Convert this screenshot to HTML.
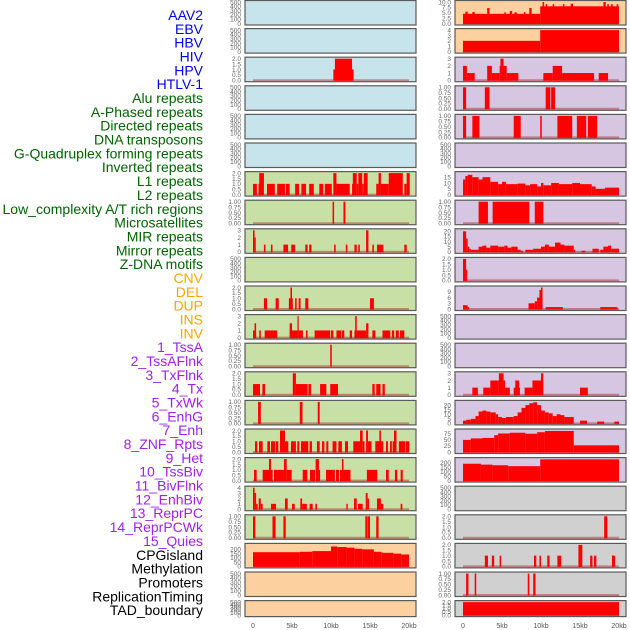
<!DOCTYPE html>
<html><head><meta charset="utf-8"><style>
html,body{margin:0;padding:0;background:#fff;width:630px;height:630px;overflow:hidden}
svg{display:block;font-family:"Liberation Sans",sans-serif}
</style></head><body>
<svg id="c" width="630" height="630"></svg>
<script>
const labelNames=["AAV2","EBV","HBV","HIV","HPV","HTLV-1","Alu repeats","A-Phased repeats","Directed repeats","DNA transposons","G-Quadruplex forming repeats","Inverted repeats","L1 repeats","L2 repeats","Low_complexity A/T rich regions","Microsatellites","MIR repeats","Mirror repeats","Z-DNA motifs","CNV","DEL","DUP","INS","INV","1_TssA","2_TssAFlnk","3_TxFlnk","4_Tx","5_TxWk","6_EnhG","7_Enh","8_ZNF_Rpts","9_Het","10_TssBiv","11_BivFlnk","12_EnhBiv","13_ReprPC","14_ReprPCWk","15_Quies","CPGisland","Methylation","Promoters","ReplicationTiming","TAD_boundary"];
const labelGroups=[6,13,5,15,5];
const groupColors=["#0000ee","#006400","#ffa500","#a020f0","#000000"];
const xTicks=[0,5,10,15,20];
const xTickLabels=["0","5kb","10kb","15kb","20kb"];
const leftBg=["b","b","b","b","b","b","g","g","g","g","g","g","g","g","g","g","g","g","g","p","p","p"];
const rightBg=["p","p","u","u","u","u","u","u","u","u","u","u","u","u","u","u","u","r","r","r","r","r"];
const T500=["0","100","200","300","400","500"],T500v=[0,100,200,300,400,500];
const T1=["0.00","0.25","0.50","0.75","1.00"],T1v=[0,.25,.5,.75,1];
const T2=["0.0","0.5","1.0","1.5","2.0"],T2v=[0,.5,1,1.5,2];
const T3=["0","1","2","3"],T3v=[0,1,2,3];
const T4=["0","1","2","3","4"],T4v=[0,1,2,3,4];
// series: [startKb,endKb,value]
const L2=[[10.3,12.9,1],[10.5,12.7,2]];
const L6=[[0,0.5,1],[0.7,0.8,1],[0.8,1.4,2],[1.8,2.8,1],[3.1,4.1,1],[4.2,4.7,1],[5.4,5.9,1],[6.2,6.8,1],[7.2,7.8,1],[8.5,9,1],[9.2,10.1,1],[10.3,10.7,2],[10.7,12.4,1],[12.7,12.8,1],[12.8,13.3,2],[13.3,13.5,1],[13.5,14,2],[14,14.2,1],[14.2,14.7,2],[15.8,16.1,1],[16.1,16.4,2],[16.4,17.4,1],[17.4,19.2,2],[19.4,19.7,1],[19.7,20.1,2]];
const L7=[[10.2,10.4,1],[11.6,11.85,1]];
const L8=[[0,0.2,3],[0.2,0.3,2],[1.4,1.6,1],[2.3,2.5,1],[3.9,4.5,1],[4.9,5.4,1],[6.7,7.0,1],[7.2,7.5,1],[10.4,10.6,1],[11.9,12.1,1],[13.0,13.3,1],[13.5,13.7,1],[14.5,14.8,3],[15.3,15.5,1],[15.9,16.7,1],[19.4,19.7,1]];
const L10=[[1.4,1.8,1],[2.9,3.3,1],[4.6,5.1,1],[4.8,5.0,2],[5.4,5.6,1],[5.85,6.1,1],[6.7,7.1,1],[15.0,15.5,1]];
const L11=[[0,0.4,1],[0.2,0.4,2],[0.8,1.0,1],[1.5,3.1,1],[4.7,5.7,1],[4.7,5.0,2],[5.7,5.85,3],[5.85,6.4,1],[6.8,7.0,1],[7.9,9.9,1],[10.0,10.3,1],[10.7,11.3,1],[11.4,11.7,1],[12.4,12.7,1],[13.0,14.5,1],[13.1,13.3,3],[14.5,14.8,2],[15.3,15.7,1],[16.6,17.6,1],[17.8,18.1,1],[18.3,18.7,1],[18.85,19.4,1]];
const L12=[[9.9,10.1,1]];
const L13=[[0,0.9,1],[1.2,1.55,1],[5.1,5.5,2],[5.5,7.0,1],[7.1,7.45,1],[8.6,9.4,1],[9.9,10.9,1],[15.3,15.6,1],[15.8,16.35,1],[16.6,16.9,1]];
const L14=[[0.65,1.0,1],[6.0,6.35,1],[8.3,8.55,1]];
const L15=[[0.26,0.55,1],[0.77,1.24,1],[1.84,2.18,1],[2.31,2.86,1],[2.95,3.25,1],[3.46,4.1,2],[4.1,4.53,1],[4.87,5.5,1],[5.68,5.94,1],[6.15,7.09,1],[7.26,7.56,1],[8.2,8.55,1],[8.85,9.15,1],[9.4,9.66,1],[10.2,10.7,1],[10.94,11.4,1],[11.8,12.18,1],[12.86,13.72,1],[13.72,14.06,2],[14.06,14.3,1],[14.5,14.74,2],[14.74,15.2,1],[15.68,16.7,1],[16.2,16.4,2],[17.05,17.3,1],[17.56,17.8,1],[17.9,18.4,1],[18.08,18.4,2],[18.7,19.5,1],[19.57,20.04,1]];
const L16=[[0.13,0.47,1],[1.24,2.05,1],[2.05,2.31,2],[2.31,2.52,1],[2.69,3.97,1],[3.97,4.32,2],[4.32,4.96,1],[6.37,6.97,1],[7.3,7.95,1],[8.03,8.45,2],[8.45,8.6,1],[9.36,10.5,1],[10.64,11.03,1],[11.15,11.4,1],[11.4,11.6,2],[11.6,12.5,1],[14.6,15.94,1],[17.05,17.4,1],[18.2,18.5,1],[18.93,19.2,1]];
const L17=[[0,0.2,4],[0.2,0.4,3],[0.4,0.6,1],[0.73,1.0,2],[1.0,1.24,1],[2.31,2.95,1],[4.1,4.45,2],[5.0,5.35,1],[6.07,6.3,2],[6.3,6.9,1],[7.26,7.65,1],[8.0,8.2,1],[11.97,12.15,1],[12.95,13.3,2],[13.45,14.06,1],[14.45,14.7,3],[14.7,14.87,2],[15.9,16.4,2],[16.4,16.7,1],[18.93,19.15,1]];
const L18=[[0,0.3,1],[2.5,2.9,1],[3.9,4.2,1],[14.4,14.7,1],[14.75,15.0,1],[15.8,16.1,1]];
const L19=[[0,6,165],[6,7.6,170],[7.6,10,178],[10,10.8,232],[10.8,12,225],[12,13,218],[13,14,205],[14,15.5,198],[15.5,16.5,170],[16.5,18,158],[18,19,148],[19,20,138]];
const R0=[[0,9.9,4.5],[0.3,0.6,5.5],[1.2,1.5,5.3],[3.1,3.4,7.2],[5.3,5.5,5.2],[6.0,6.3,5.8],[6.6,6.9,5.2],[7.8,8.0,5.3],[8.5,8.8,7.2],[9.9,20,8],[10.2,10.4,10],[10.6,10.8,9],[11.5,11.7,9],[12.8,13.0,9],[13.8,14.1,9.2],[18.0,18.3,10],[18.5,18.7,9],[19.0,19.2,9],[19.7,19.9,9]];
const R1=[[0,9.9,2],[9.9,20,4]];
const R2=[[0,0.5,2],[0.5,1.5,1],[3.1,3.7,2],[3.7,4.7,1],[4.7,5.6,2],[4.8,5.2,3],[5.6,7.1,1],[10.3,11.5,1],[11.5,12.7,2],[12.7,16.8,1],[17.4,18.6,1]];
const R3=[[0,0.4,1],[2.8,3.4,1],[10.6,11.2,1],[11.3,11.8,1]];
const R4=[[0,0.4,1],[1.2,2.1,1],[6.5,7.4,1],[9.9,10.1,1],[12.1,14.0,1],[14.6,15.8,1],[16.0,17.2,1]];
const R6=[[0,0.3,13],[0.3,0.6,16],[0.6,1.2,17],[1.2,2,15],[2,2.5,13],[2.5,3.5,15],[3.5,4.5,11],[4.5,5,9],[5,5.5,11],[5.5,7,9],[7,8,9.5],[8,8.6,8],[8.6,9.5,9],[9.5,10,7],[10,10.3,10],[10.3,11.3,8],[11.3,12.3,10],[12.3,14,9],[14,15,10],[15,16.5,9],[16.5,17,7],[17,18.2,5],[18.2,20,6]];
const R7=[[2.0,3.2,1],[3.8,8.5,1],[9.2,10.3,1]];
const R8=[[0,0.4,20],[0.4,0.6,13],[0.6,0.8,5],[0.8,1,3],[1,2,2],[2,2.5,5],[2.5,3,6],[3,3.5,4],[3.5,4.5,6],[4.5,5.3,5],[5.3,5.7,6],[5.7,6.2,4],[6.2,7,5],[7,7.4,2],[7.4,7.7,1],[8,9,2],[9,10,3],[10,10.5,5],[10.5,11,7],[11,11.8,5],[11.8,12.5,9],[12.5,13,7],[13,14.2,6],[14.2,14.4,2],[15.2,15.7,1],[16.6,17.4,3],[17.6,18,2],[18,18.6,5],[18.6,19,6],[19,20,3]];
const R9=[[0,0.4,2],[0.4,0.5,1]];
const R10=[[0,0.6,2],[0.6,0.8,1],[8.4,9.2,3],[9.2,9.5,4],[9.5,9.8,6],[9.8,10.0,10],[10.0,10.2,11.3],[10.6,12.8,1],[17.6,19.8,1]];
const R13=[[1.2,1.9,1],[2.6,3.5,1],[3.5,4.6,2],[4.6,5.2,3],[5.2,5.4,2],[5.4,6,1],[6.5,7.3,1],[6.7,7.2,2],[7.9,8.9,1],[8.9,10,2],[10,10.3,3],[15,16,1]];
const R14=[[0,0.4,3],[0.4,1,4],[1,1.6,5],[1.6,2,8],[2,2.5,13],[2.5,3,14],[3,3.5,13],[3.5,4.2,12],[4.2,4.5,10],[4.5,5,7],[5,5.5,6],[5.5,6.5,7],[6.5,7,8],[7,7.5,12],[7.5,8,17],[8,8.5,20],[8.5,9,22],[9,9.5,23],[9.5,10,20],[10,10.5,14],[10.5,11,12],[11,11.5,11],[11.5,12,8],[12,12.5,10],[12.5,13,9],[13,14.2,7],[15,15.9,3],[17.2,18.1,2],[19.4,20,2]];
const R15=[[0,1,49],[1,2.5,55],[2.5,4,57],[4,4.5,68],[4.5,6,75],[6,8,78],[8,9.5,74],[9.5,10.5,80],[10.5,14.2,85],[14.2,20,27]];
const R16=[[0,2.3,186],[2.3,3.8,176],[3.8,5.8,169],[5.8,9.9,159],[9.9,20,234]];
const R18=[[18.1,18.5,2]];
const R19=[[2.8,3.2,1],[3.7,4,1],[4.7,4.9,1],[9.1,9.4,1],[9.8,10,1],[10.8,11.1,1],[12.1,12.6,1],[14.8,15.3,2],[14.8,15.1,1.2],[16.3,16.6,1],[16.8,17.1,1],[19.1,19.5,1]];
const R20=[[0.4,0.7,1],[1.5,1.7,1],[8.3,8.5,1],[9.0,9.3,1]];
const R21=[[0,20,2]];
const leftSeries=[null,null,L2,null,null,null,L6,L7,L8,null,L10,L11,L12,L13,L14,L15,L16,L17,L18,L19,null,null];
const rightSeries=[R0,R1,R2,R3,R4,null,R6,R7,R8,R9,R10,null,null,R13,R14,R15,R16,null,R18,R19,R20,R21];
const leftMax=[500,500,2,500,500,500,2,1,3,500,2,3,1,2,1,2,2,4,1,250,500,500];
const rightMax=[10,4,3,1,1,500,18.5,1,21,2,11.3,500,500,3,23.5,87,237,500,2,2,1,2];
const leftTicks=[[T500,T500v],[T500,T500v],[T2,T2v],[T500,T500v],[T500,T500v],[T500,T500v],[T2,T2v],[T1,T1v],[T3,T3v],[T500,T500v],[T2,T2v],[T3,T3v],[T1,T1v],[T2,T2v],[T1,T1v],[T2,T2v],[T2,T2v],[T4,T4v],[T1,T1v],[["0","50","100","150","200"],[0,50,100,150,200]],[T500,T500v],[T500,T500v]];
const rightTicks=[[["0.0","2.5","5.0","7.5","10.0"],[0,2.5,5,7.5,10]],[T4,T4v],[T3,T3v],[T1,T1v],[T1,T1v],[T500,T500v],[["0","5","10","15"],[0,5,10,15]],[T1,T1v],[["0","5","10","15","20"],[0,5,10,15,20]],[T2,T2v],[["0","3","6","9"],[0,3,6,9]],[T500,T500v],[T500,T500v],[T3,T3v],[["0","5","10","15","20"],[0,5,10,15,20]],[["0","25","50","75"],[0,25,50,75]],[["0","50","100","150","200"],[0,50,100,150,200]],[T500,T500v],[T2,T2v],[T2,T2v],[T1,T1v],[T2,T2v]];

const NS="http://www.w3.org/2000/svg";
const svg=document.getElementById('c');
const bgCol={b:"#c7e3eb",g:"#c8e0a5",p:"#fdd19f",u:"#d6c6e2",r:"#d0d0d0"};
function mk(t,a){const e=document.createElementNS(NS,t);for(const k in a)e.setAttribute(k,a[k]);svg.appendChild(e);return e;}
// labels
let li=0;
labelGroups.forEach((n,g)=>{for(let j=0;j<n;j++){const t=mk('text',{x:203,y:15+li*13.84+5,'text-anchor':'end','font-size':14,fill:groupColors[g]});t.textContent=labelNames[li];

li++;}});
function panel(i,col){
  const left=col===0;
  const px0=left?245:455,pw=171;
  const top=i===0?0.5:28.6*i, h=i===21?16:(i===0?24.5:24.5);
  const bg=(left?leftBg:rightBg)[i];
  const r=mk('rect',{x:px0,y:top,width:pw,height:h,fill:bgCol[bg],stroke:"#5a5a5a",'stroke-width':1.2});
  
  
  const ymax=(left?leftMax:rightMax)[i];
  const y0=top+h-1.5,y1=top+1.5;
  const Y=v=>y0-(v/ymax)*(y0-y1);
  const X=k=>(left?253:463)+k*7.8;
  const tk=(left?leftTicks:rightTicks)[i];
  tk[0].forEach((s,j)=>{const t=mk('text',{x:px0-4,y:Y(tk[1][j])+2.3,'text-anchor':'end','font-size':6.5,fill:"#666"});t.textContent=s;
    
    });
  const ser=(left?leftSeries:rightSeries)[i];
  if(ser){
    const bl=mk('line',{x1:X(0),x2:X(20),y1:y0,y2:y0,stroke:"rgba(170,30,30,0.45)",'stroke-width':2});
    
    
    ser.forEach(s=>{const xa=X(s[0]),xb=Math.max(X(s[1]),xa+1.2);const yy=Y(Math.min(s[2],ymax));
      const b=mk('rect',{x:xa,y:yy,width:xb-xa,height:y0-yy+0.5,fill:"#ff0000"});
      
      });
  }
}
for(let i=0;i<22;i++){panel(i,0);panel(i,1);}
[253,463].forEach(base=>{xTicks.forEach((k,j)=>{const t=mk('text',{x:base+k*7.8,y:628,'text-anchor':'middle','font-size':7,fill:"#555"});t.textContent=xTickLabels[j];
  
  });});
</script>
</body></html>
